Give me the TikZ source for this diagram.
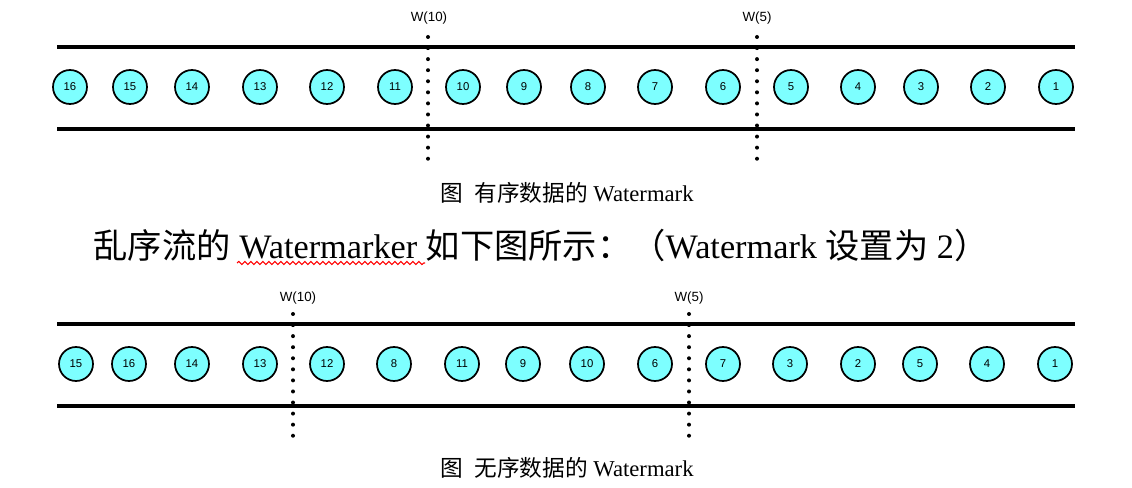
\documentclass[tikz,border=0pt]{standalone}
\usepackage{fontspec}
\setmainfont{Liberation Serif}
\setsansfont{Liberation Sans}
\newfontfamily\cjk{Noto Sans CJK SC}
\usetikzlibrary{decorations.pathmorphing}
\definecolor{ball}{RGB}{125,255,255}
\tikzset{
  ev/.style={circle, draw=black, line width=1.3pt, fill=ball, minimum size=25.5pt, inner sep=0pt,
             font=\sffamily\fontsize{8.5}{9}\selectfont},
  rail/.style={line width=2.3pt},
  wline/.style={line width=3pt, line cap=round, dash pattern=on 0pt off 8.3pt},
  wlabel/.style={font=\sffamily\fontsize{10}{11}\selectfont},
  captext/.style={font=\fontsize{17}{20}\selectfont},
  bigtext/.style={font=\fontsize{25.7}{30}\selectfont},
  squiggle/.style={red, line width=0.8pt, decorate, decoration={snake, amplitude=1.2pt, segment length=4.5pt}}
}
\begin{document}
\begin{tikzpicture}[x=0.75pt,y=-0.75pt]
\path[use as bounding box, fill=white] (0,0) rectangle (1132,488);

% ---------- top diagram ----------
\coordinate (ta1) at (57,47);  \coordinate (ta2) at (1075,47);
\coordinate (tb1) at (57,129); \coordinate (tb2) at (1075,129);
\draw[rail] (ta1) -- (ta2);
\draw[rail] (tb1) -- (tb2);
\foreach \n/\x in {16/70,15/130,14/192,13/260,12/327,11/395,10/463,9/524,8/588,7/655,6/723,5/791,4/858,3/921,2/988,1/1056}
  \node[ev] (t\n) at (\x,87) {\n};

\node[wlabel] (tw10) at (429,18) {W(10)};
\coordinate (tw10a) at (428,37); \coordinate (tw10b) at (428,160);
\draw[wline] (tw10a) -- (tw10b);
\node[wlabel] (tw5) at (757,18) {W(5)};
\coordinate (tw5a) at (757,37); \coordinate (tw5b) at (757,160);
\draw[wline] (tw5a) -- (tw5b);

\node[captext] (cap1) at (567,193) {{\cjk 图\hspace{0.5em}有序数据的} Watermark};

% ---------- middle text ----------
\node[bigtext] (mid) at (541,245) {{\cjk 乱序流的} Watermarker {\cjk 如下图所示：（}Watermark {\cjk 设置为} 2{\cjk ）}};
\coordinate (sq1) at (237,263); \coordinate (sq2) at (425,263);
\draw[squiggle] (sq1) -- (sq2);

% ---------- bottom diagram ----------
\coordinate (ba1) at (57,324);  \coordinate (ba2) at (1075,324);
\coordinate (bb1) at (57,406);  \coordinate (bb2) at (1075,406);
\draw[rail] (ba1) -- (ba2);
\draw[rail] (bb1) -- (bb2);
\foreach \n/\x in {15/76,16/129,14/192,13/260,12/327,8/394,11/462,9/523,10/587,6/655,7/723,3/790,2/858,5/920,4/987,1/1055}
  \node[ev] (b\n) at (\x,364) {\n};

\node[wlabel] (bw10) at (298,298) {W(10)};
\coordinate (bw10a) at (293,314); \coordinate (bw10b) at (293,436);
\draw[wline] (bw10a) -- (bw10b);
\node[wlabel] (bw5) at (689,298) {W(5)};
\coordinate (bw5a) at (689,314); \coordinate (bw5b) at (689,436);
\draw[wline] (bw5a) -- (bw5b);

\node[captext] (cap2) at (567,468) {{\cjk 图\hspace{0.5em}无序数据的} Watermark};
\end{tikzpicture}
\end{document}
